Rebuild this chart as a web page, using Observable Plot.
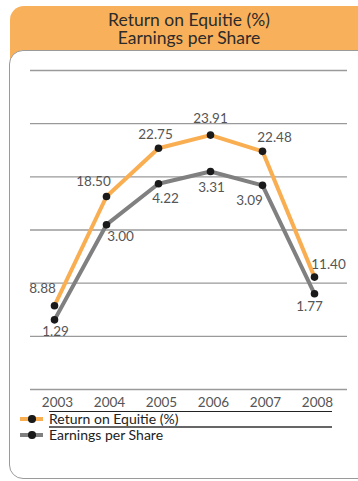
<!DOCTYPE html>
<html>
<head>
<meta charset="utf-8">
<script src="https://cdn.jsdelivr.net/npm/d3@7"></script>
<script src="https://cdn.jsdelivr.net/npm/@observablehq/plot@0.6"></script>
<style>
  html, body { margin: 0; padding: 0; background: #fff; }
  body { width: 358px; height: 481px; overflow: hidden; position: relative; font-family: Lato, "Open Sans", sans-serif; }
  #header { position: absolute; left: 10px; top: 6px; width: 360px; height: 60px; background: #F9B05A; border-top-left-radius: 14px; }
  #panel { position: absolute; left: 9px; top: 50px; width: 370px; height: 427px; background: #fff; border: 1.5px solid #9a9a9a; border-radius: 14px; }
  .title { position: absolute; left: 20px; width: 338px; text-align: center; font-size: 17.5px; line-height: 17px; height: 17px; color: #2b2b2b; white-space: nowrap; }
  #chart { position: absolute; left: 0; top: 55px; }
  .lg-rule { position: absolute; left: 49px; width: 283px; }
  .lg-row { position: absolute; left: 0; height: 16px; width: 340px; }
  .lg-bar { position: absolute; left: 20px; top: 6px; width: 23px; height: 4px; }
  .lg-dot { position: absolute; left: 28.3px; top: 4.3px; width: 7.4px; height: 7.4px; border-radius: 50%; background: #1a1a1a; }
  .lg-text { position: absolute; left: 49px; top: 0; font-size: 14px; line-height: 16px; color: #222; white-space: nowrap; }
</style>
</head>
<body>
<div id="header"></div>
<div id="panel"></div>
<div class="title" id="t1" style="top:11px;"></div>
<div class="title" id="t2" style="top:28.5px;"></div>
<div id="chart"></div>
<div class="lg-rule" style="top:411px;height:1px;background:#222;"></div>
<div class="lg-row" style="top:411px;">
  <div class="lg-bar" style="background:#F9AE52;"></div><div class="lg-dot"></div>
  <div class="lg-text" id="lg1"></div>
</div>
<div class="lg-rule" style="top:426px;height:2px;background:#666;"></div>
<div class="lg-row" style="top:427px;">
  <div class="lg-bar" style="background:#808080;"></div><div class="lg-dot"></div>
  <div class="lg-text" id="lg2"></div>
</div>
<script>
// ---- data ----
const years = ["2003", "2004", "2005", "2006", "2007", "2008"];
const roe = [8.88, 18.50, 22.75, 23.91, 22.48, 11.40];            // Return on Equitie (%) (labels & plotted)
const epsLabels = [1.29, 3.00, 4.22, 3.31, 3.09, 1.77];            // Earnings per Share (printed labels)
const epsPlotted = [1.31, 3.10, 3.87, 4.10, 3.84, 1.80];           // EPS marker heights (0–6)
const seriesNames = ["Return on Equitie (%)", "Earnings per Share"];
const titleLines = ["Return on Equitie (%)", "Earnings per Share"];

document.getElementById("t1").textContent = titleLines[0];
document.getElementById("t2").textContent = titleLines[1];
document.getElementById("lg1").textContent = seriesNames[0];
document.getElementById("lg2").textContent = seriesNames[1];

// ---- scales / layout ----
const roeDomain = [1.5, 29.6];          // primary (hidden) axis
const epsDomain = [0, 6];               // secondary (hidden) axis
const toPrimary = d3.scaleLinear(epsDomain, roeDomain);
const gridValues = d3.range(7).map(i => toPrimary(i));

const roeRows = years.map((y, i) => ({year: y, v: roe[i], label: roe[i].toFixed(2), i}));
const epsRows = years.map((y, i) => ({year: y, v: toPrimary(epsPlotted[i]), label: epsLabels[i].toFixed(2), i}));

const orange = "#F9AE52", gray = "#808080", dotColor = "#1a1a1a", labelColor = "#555";

// label nudges (styling)
const roeNudge = [[-12, -17], [-13, -15], [-3, -14], [0, -16], [12, -14], [14, -12]];
const epsNudge = [[1, 12], [14, 12], [7, 15], [1, 16], [-13, 15], [-5, 13]];

const labelMarks = [];
roeRows.forEach((r, i) => labelMarks.push(Plot.text([r], {x: "year", y: "v", text: "label", dx: roeNudge[i][0], dy: roeNudge[i][1], fill: labelColor, fontSize: 13.5})));
epsRows.forEach((r, i) => labelMarks.push(Plot.text([r], {x: "year", y: "v", text: "label", dx: epsNudge[i][0], dy: epsNudge[i][1], fill: labelColor, fontSize: 13.5})));

const chart = Plot.plot({
  width: 358,
  height: 360,
  marginTop: 15,
  marginBottom: 26,
  marginLeft: 30,
  marginRight: 11,
  style: {fontFamily: "Lato, 'Open Sans', sans-serif", background: "transparent", overflow: "visible"},
  x: {type: "point", domain: years, range: [53.3, 315.7], padding: 0, axis: null},
  y: {domain: roeDomain, axis: null},
  marks: [
    Plot.ruleY(gridValues, {stroke: "#9a9a9a", strokeWidth: 1.3}),
    Plot.line(roeRows, {x: "year", y: "v", stroke: orange, strokeWidth: 4, strokeLinejoin: "miter"}),
    Plot.line(epsRows, {x: "year", y: "v", stroke: gray, strokeWidth: 4, strokeLinejoin: "miter"}),
    Plot.dot(roeRows, {x: "year", y: "v", r: 3.8, fill: dotColor}),
    Plot.dot(epsRows, {x: "year", y: "v", r: 3.8, fill: dotColor}),
    ...labelMarks,
    Plot.axisX({tickSize: 0, tickPadding: 8, dx: 3, fontSize: 13.5, color: labelColor, label: null})
  ]
});
document.getElementById("chart").appendChild(chart);
</script>
</body>
</html>
